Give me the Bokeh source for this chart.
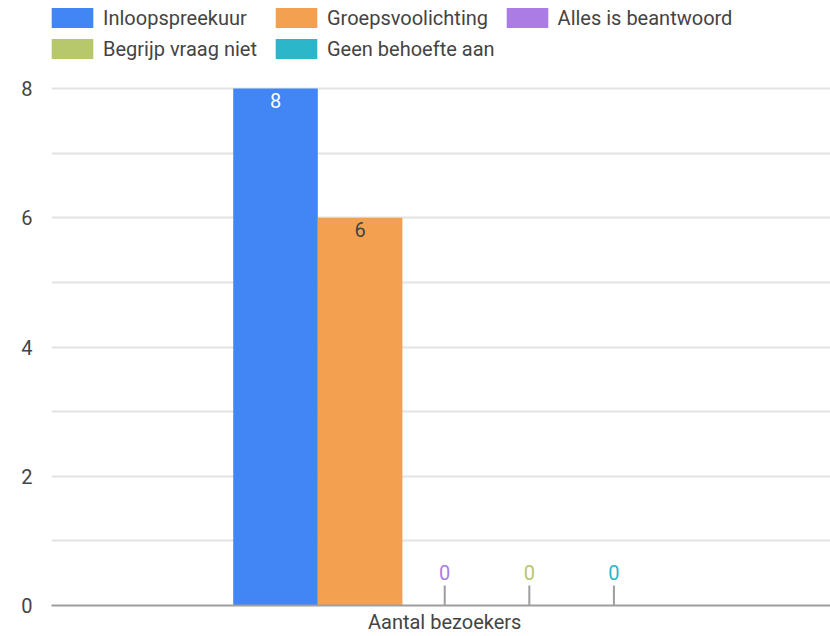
from bokeh.plotting import figure
from bokeh.models import ColumnDataSource, Range1d, FixedTicker, Legend, LegendItem
from bokeh.core.properties import value
from bokeh.embed import file_html
from bokeh.resources import INLINE
import math

# ---- data ----
category = "Aantal bezoekers"
series = ["Inloopspreekuur", "Groepsvoolichting", "Alles is beantwoord",
          "Begrijp vraag niet", "Geen behoefte aan"]
values = [8, 6, 0, 0, 0]
colors = ["#4285F4", "#F4A051", "#AB7DE4", "#B7C76B", "#2BB6CA"]
y_ticks = [0, 2, 4, 6, 8]

FONT = "Roboto"
TXT = "#444444"
FS = "20px"

def luminance(hexc):
    r, g, b = (int(hexc[i:i + 2], 16) / 255 for i in (1, 3, 5))
    return 0.2126 * r + 0.7152 * g + 0.0722 * b

idx = list(range(len(series)))
label_color = []
label_dy = []
for v, c in zip(values, colors):
    if v > 0:
        label_color.append("#FFFFFF" if luminance(c) < 0.5 else TXT)
        label_dy.append(12)
    else:
        label_color.append(c)
        label_dy.append(-33)

src = ColumnDataSource(dict(x=idx, top=values, color=colors, series=series,
                            label=[str(v) for v in values],
                            label_color=label_color, label_dy=label_dy))
zero_x = [i for i, v in zip(idx, values) if v == 0]
zsrc = ColumnDataSource(dict(x=zero_x, y=[0] * len(zero_x)))

# frame spans the whole height above the axis; the top 88px hold the legend
y_top = max(y_ticks) * 605 / 517

p = figure(width=830, height=636,
           x_range=Range1d(-2.648, 6.560), y_range=Range1d(0, y_top),
           output_backend="svg", toolbar_location=None,
           min_border_left=51, min_border_right=0,
           min_border_top=0, min_border_bottom=31)
p.outline_line_color = None
p.background_fill_color = "white"

bars = p.vbar(x="x", top="top", bottom=0, width=1, fill_color="color",
              line_color=None, source=src)

p.ray(x="x", y="y", length=20, length_units="screen", angle=math.pi / 2,
      line_color="#9E9E9E", line_width=2, source=zsrc)

p.text(x="x", y="top", text="label", text_color="label_color",
       y_offset="label_dy", text_align="center", text_baseline="middle",
       text_font=value(FONT), text_font_size=FS, source=src)

# axes
minor = [(a + b) / 2 for a, b in zip(y_ticks[:-1], y_ticks[1:])]
p.yaxis.ticker = FixedTicker(ticks=y_ticks, minor_ticks=minor)
p.yaxis.axis_line_color = None
p.yaxis.major_tick_line_color = None
p.yaxis.minor_tick_line_color = None
p.yaxis.major_label_standoff = 13
p.yaxis.major_label_text_font = FONT
p.yaxis.major_label_text_font_size = FS
p.yaxis.major_label_text_color = TXT

center = sum(idx) / len(idx)
p.xaxis.ticker = FixedTicker(ticks=[center])
p.xaxis.major_label_overrides = {center: category}
p.xaxis.axis_line_color = "#9E9E9E"
p.xaxis.axis_line_width = 2
p.xaxis.major_tick_line_color = None
p.xaxis.minor_tick_line_color = None
p.xaxis.major_label_standoff = -2
p.xaxis.major_label_text_font = FONT
p.xaxis.major_label_text_font_size = FS
p.xaxis.major_label_text_color = TXT

p.xgrid.grid_line_color = None
p.ygrid.grid_line_color = "#E3E3E3"
p.ygrid.grid_line_width = 2
p.ygrid.minor_grid_line_color = "#E3E3E3"
p.ygrid.minor_grid_line_width = 2

items = [LegendItem(label=s, renderers=[bars], index=i) for i, s in enumerate(series)]
legend = Legend(items=items, ncols=3, orientation="horizontal", location=(-5, 544),
                glyph_width=52, glyph_height=25, label_standoff=5, spacing=6,
                label_width=161, padding=0, margin=0,
                border_line_color=None, background_fill_alpha=0,
                label_text_font=FONT, label_text_font_size=FS,
                label_text_color=TXT)
p.add_layout(legend, "center")

open("out.html", "w").write(file_html(p, INLINE))
